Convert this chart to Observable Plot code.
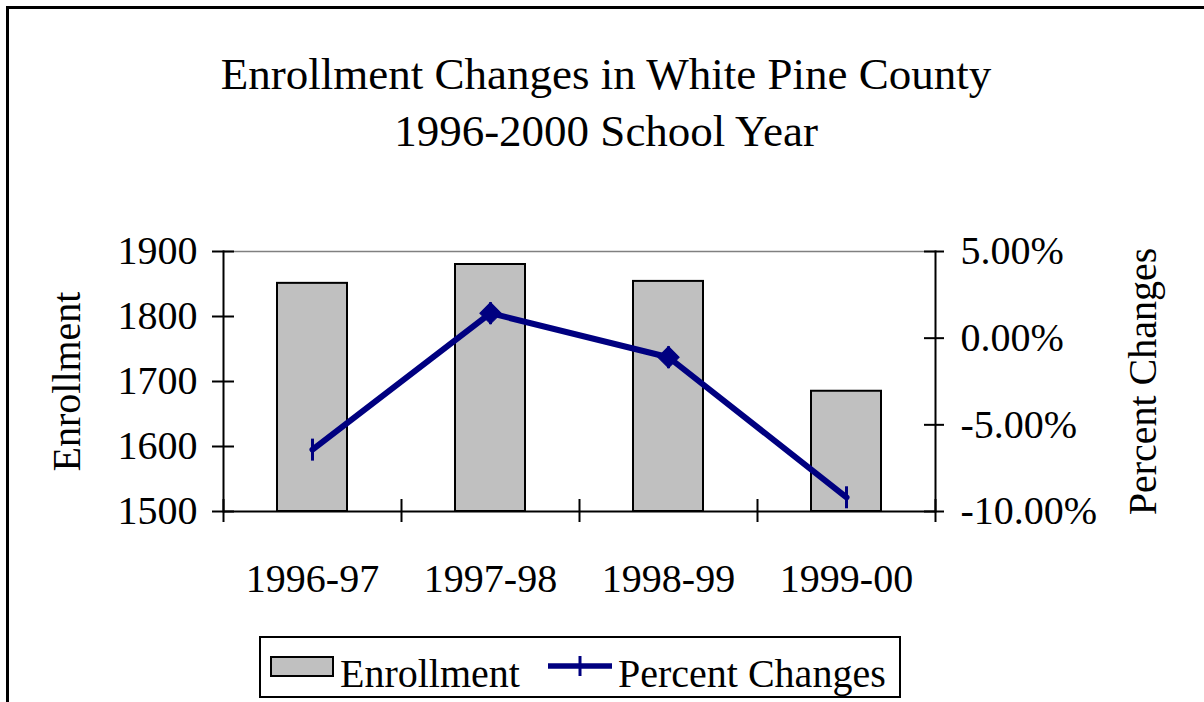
<!DOCTYPE html>
<html>
<head>
<meta charset="utf-8">
<script src="https://cdn.jsdelivr.net/npm/d3@7"></script>
<script src="https://cdn.jsdelivr.net/npm/@observablehq/plot@0.6"></script>
<style>
  html, body { margin: 0; padding: 0; background: #fff; }
  body { width: 1204px; height: 702px; position: relative; overflow: hidden; font-family: "Liberation Serif", "Times New Roman", serif; color: #000; }
  #frame { position: absolute; left: 6px; top: 6px; width: 1300px; height: 800px; border-left: 3px solid #000; border-top: 3px solid #000; }
  #title { position: absolute; left: 8px; top: 46px; width: 1196px; text-align: center; font-size: 45px; line-height: 57px; }
  #chart { position: absolute; left: 0; top: 190px; }
  #legend { position: absolute; left: 259px; top: 636px; width: 638px; height: 58px; border: 2px solid #000; background: #fff; }
  #legend .sw { position: absolute; left: 9px; top: 18px; width: 64px; height: 21px; box-sizing: border-box; border: 2px solid #000; background: #c0c0c0; }
  #legend .t { position: absolute; top: 15.5px; font-size: 40px; line-height: 40px; white-space: nowrap; }
  #legend svg { position: absolute; left: 287px; top: 16px; }
</style>
</head>
<body>
<div id="frame"></div>
<div id="title">Enrollment Changes in White Pine County<br>1996-2000 School Year</div>
<div id="chart"></div>
<div id="legend">
  <div class="sw"></div>
  <span class="t" style="left:79px">Enrollment</span>
  <svg width="64" height="24"><line x1="0" y1="12" x2="64" y2="12" stroke="#000080" stroke-width="5.5"/><line x1="32" y1="2" x2="32" y2="22" stroke="#000080" stroke-width="3"/></svg>
  <span class="t" style="left:357px">Percent Changes</span>
</div>
<script>
// ---- data ----
const seasons = ["1996-97", "1997-98", "1998-99", "1999-00"];
const enrollment = [1851, 1880, 1854, 1685];
const percentChange = [-6.43, 1.44, -1.10, -9.18];
const enrollmentTicks = [1500, 1600, 1700, 1800, 1900];
const percentTicks = [-10, -5, 0, 5];

const rows = seasons.map((s, i) => ({season: s, enrollment: enrollment[i], pct: percentChange[i]}));

// secondary axis mapping: percent domain [-10, 5] onto enrollment domain [1500, 1900]
const yMin = 1500, yMax = 1900, pMin = -10, pMax = 5;
const toY = p => yMin + (p - pMin) * (yMax - yMin) / (pMax - pMin);
const fromY = y => pMin + (y - yMin) * (pMax - pMin) / (yMax - yMin);

const W = 1204, H = 440;
const mL = 223, mR = 269, mT = 61, mB = 119;
const step = (W - mL - mR) / seasons.length;
const navy = "#000080";

const vtick = {
  draw(ctx, size) {
    const r = Math.sqrt(size / Math.PI);
    ctx.moveTo(0, -r);
    ctx.lineTo(0, r);
  }
};

const chart = Plot.plot({
  width: W,
  height: H,
  marginLeft: mL,
  marginRight: mR,
  marginTop: mT,
  marginBottom: mB,
  style: {fontFamily: "Liberation Serif, Times New Roman, serif", fontSize: "40px", background: "transparent", overflow: "visible"},
  x: {type: "band", domain: seasons, paddingInner: 0.607, paddingOuter: 0.3035, align: 0.5, axis: null, label: null},
  y: {domain: [yMin, yMax], axis: null, label: null},
  marks: [
    Plot.frame({anchor: "top", stroke: "#808080", strokeWidth: 1.5}),
    Plot.barY(rows, {x: "season", y1: yMin, y2: "enrollment", fill: "#c0c0c0", stroke: "#000", strokeWidth: 2}),
    Plot.frame({anchor: "left", stroke: "#000", strokeWidth: 2}),
    Plot.frame({anchor: "right", stroke: "#000", strokeWidth: 2}),
    Plot.ruleY([yMin], {stroke: "#000", strokeWidth: 2}),
    // left axis: cross ticks + labels
    Plot.axisY(enrollmentTicks, {anchor: "left", label: null, tickSize: 22, dx: 11, tickFormat: () => "", strokeWidth: 2, stroke: "#000"}),
    Plot.axisY(enrollmentTicks, {anchor: "left", label: null, tickSize: 0, tickPadding: 26, fontSize: 40, tickFormat: d => String(d)}),
    // right axis: cross ticks + labels
    Plot.axisY(percentTicks.map(toY), {anchor: "right", label: null, tickSize: 20, dx: -12, tickFormat: () => "", strokeWidth: 2, stroke: "#000"}),
    Plot.axisY(percentTicks.map(toY), {anchor: "right", label: null, tickSize: 0, tickPadding: 25, fontSize: 40, tickFormat: v => fromY(v).toFixed(2) + "%"}),
    // x axis: cross ticks at category boundaries + labels
    Plot.axisX(seasons, {anchor: "bottom", label: null, tickSize: 23, dy: -12, dx: -step / 2, tickFormat: () => "", strokeWidth: 2, stroke: "#000"}),
    Plot.axisX([seasons[seasons.length - 1]], {anchor: "bottom", label: null, tickSize: 23, dy: -12, dx: step / 2, tickFormat: () => "", strokeWidth: 2, stroke: "#000"}),
    Plot.axisX(seasons, {anchor: "bottom", label: null, tickSize: 0, tickPadding: 52, fontSize: 40}),
    // axis titles
    Plot.text(["Enrollment"], {frameAnchor: "left", dx: -156, rotate: -90, fontSize: 40, lineAnchor: "middle", textAnchor: "middle"}),
    Plot.text(["Percent Changes"], {frameAnchor: "right", dx: 208, rotate: -90, fontSize: 40, lineAnchor: "middle", textAnchor: "middle"}),
    // percent change line
    Plot.line(rows, {x: "season", y: d => toY(d.pct), stroke: navy, strokeWidth: 6, strokeLinejoin: "round"}),
    Plot.dot(rows, {x: "season", y: d => toY(d.pct), symbol: vtick, r: 11, stroke: navy, strokeWidth: 3, fill: "none"}),
    Plot.dot(rows, {filter: (d, i) => i > 0 && i < rows.length - 1, x: "season", y: d => toY(d.pct), symbol: "square", rotate: 45, r: 8.5, fill: navy, stroke: navy, strokeWidth: 1})
  ]
});
document.getElementById("chart").appendChild(chart);
</script>
</body>
</html>
